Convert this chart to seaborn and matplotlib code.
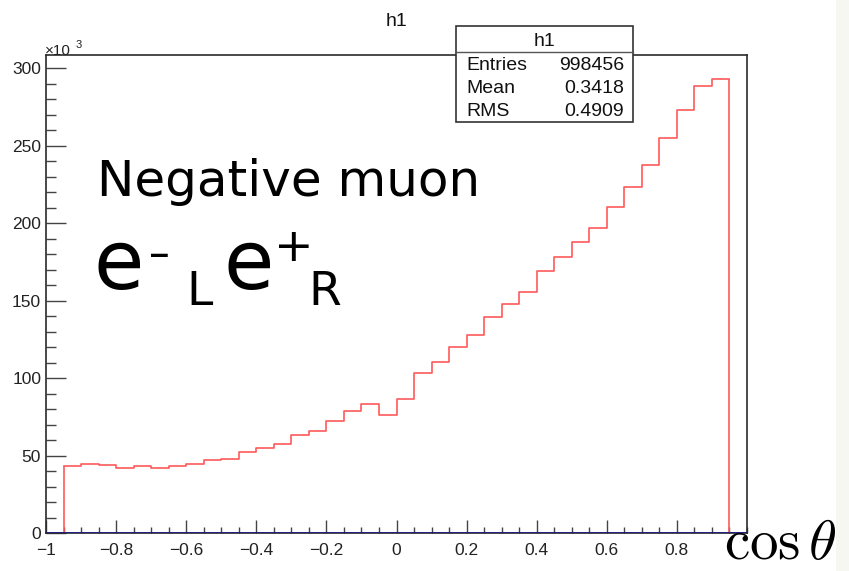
import numpy as np
import pandas as pd
import matplotlib
matplotlib.use("Agg")
import matplotlib.pyplot as plt
import seaborn as sns
from matplotlib.patches import Rectangle
from matplotlib.ticker import MultipleLocator, FixedLocator

# ---------------- data ----------------
n_bins = 38
x_lo, x_hi = -0.95, 0.95
counts_k = [43.2, 44.5, 43.9, 42.2, 43.2, 42.2, 43.2, 44.5, 47.1, 47.5,
            52.5, 54.6, 57.4, 63.2, 66.0, 72.5, 78.9, 83.0, 76.1, 86.2,
            103.4, 110.5, 119.8, 127.7, 139.1, 147.7, 155.3, 169.2, 177.8, 188.0,
            196.6, 210.5, 223.4, 237.4, 254.6, 272.9, 288.4, 292.7]
xtick_vals = [-1.0, -0.8, -0.6, -0.4, -0.2, 0.0, 0.2, 0.4, 0.6, 0.8]
xtick_labels = ["\u22121", "\u22120.8", "\u22120.6", "\u22120.4", "\u22120.2", "0", "0.2", "0.4", "0.6", "0.8"]
ytick_vals = [0, 50, 100, 150, 200, 250, 300]
ytick_labels = ["0", "50", "100", "150", "200", "250", "300"]
stats_names = ["Entries", "Mean", "RMS"]
stats_values = ["998456", "0.3418", "0.4909"]
hist_name = "h1"

edges = np.linspace(x_lo, x_hi, n_bins + 1)
centers = 0.5 * (edges[:-1] + edges[1:])
df = pd.DataFrame({"cos_theta": centers, "count": counts_k})

# ---------------- figure ----------------
W, H = 849, 571
fig = plt.figure(figsize=(W / 100, H / 100), dpi=100)
fig.patch.set_facecolor("white")

def fx(px):
    return px / W

def fy(py):
    return 1 - py / H

ax_l, ax_r, ax_t, ax_b = 46, 747, 55, 533
ax = fig.add_axes([fx(ax_l), fy(ax_b), (ax_r - ax_l) / W, (ax_b - ax_t) / H])
ax.set_facecolor("white")

red = "#ff5a5a"
sns.histplot(data=df, x="cos_theta", weights="count", bins=edges.tolist(),
             element="step", fill=False, color=red, linewidth=1.2, ax=ax)
# outer edges of the histogram down to zero
ax.vlines([edges[0], edges[-1]], 0, [counts_k[0], counts_k[-1]],
          color=red, linewidth=1.2)
ax.axhline(0, color="#1c1c8a", linewidth=2.0, zorder=5)

ax.set_xlim(-1, 1)
ax.set_ylim(0, 308.4)
ax.set_xlabel("")
ax.set_ylabel("")

ax.xaxis.set_major_locator(FixedLocator(xtick_vals))
ax.set_xticklabels(xtick_labels)
ax.xaxis.set_minor_locator(MultipleLocator(0.05))
ax.yaxis.set_major_locator(FixedLocator(ytick_vals))
ax.set_yticklabels(ytick_labels)
ax.yaxis.set_minor_locator(MultipleLocator(10))

frame_c = "#2a2a2a"
for s in ax.spines.values():
    s.set_color(frame_c)
    s.set_linewidth(1.2)

ax.tick_params(axis="x", which="major", direction="in", length=9.4, width=1.0,
               color="#444444", pad=7, labelsize=12.5, top=False)
ax.tick_params(axis="x", which="minor", direction="in", length=4.0, width=1.0,
               color="#444444", top=False)
ax.tick_params(axis="y", which="major", direction="in", length=14.4, width=1.0,
               color="#444444", pad=3.5, labelsize=12.5, right=False)
ax.tick_params(axis="y", which="minor", direction="in", length=7.2, width=1.0,
               color="#444444", right=False)
for lab in ax.get_xticklabels() + ax.get_yticklabels():
    lab.set_fontfamily("Liberation Sans")
    lab.set_color("#222222")

# ×10^3
fig.text(fx(45), fy(55), "\u00d710", fontsize=11, family="Liberation Sans",
         color="#222222", va="baseline", ha="left")
fig.text(fx(75.5), fy(47.5), "3", fontsize=8, family="Liberation Sans",
         color="#222222", va="baseline", ha="left")

# title
fig.text(fx(396.5), fy(26), hist_name, fontsize=14, family="Liberation Sans",
         color="#111111", va="baseline", ha="center")

# stats box
bx0, bx1, by0, by1, bsep = 456, 633, 26, 122, 51.5
fig.patches.append(Rectangle((fx(bx0), fy(by1)), (bx1 - bx0) / W, (by1 - by0) / H,
                             transform=fig.transFigure, facecolor="white",
                             edgecolor="#333333", linewidth=1.2, zorder=10))
fig.lines.append(plt.Line2D([fx(bx0), fx(bx1)], [fy(bsep), fy(bsep)],
                            transform=fig.transFigure, color="#555555",
                            linewidth=1.0, zorder=11))
fig.text(fx((bx0 + bx1) / 2), fy(46.5), hist_name, fontsize=14, family="Liberation Sans",
         color="#111111", va="baseline", ha="center", zorder=12)
row_base = [70, 93, 116.5]
for name, val, yb in zip(stats_names, stats_values, row_base):
    fig.text(fx(466), fy(yb), name, fontsize=14, family="Liberation Sans",
             color="#111111", va="baseline", ha="left", zorder=12)
    fig.text(fx(624), fy(yb), val, fontsize=14, family="Liberation Sans",
             color="#111111", va="baseline", ha="right", zorder=12)

# annotations
big_font = "DejaVu Sans"
fig.text(fx(97), fy(196.5), "Negative muon", fontsize=36, family=big_font,
         color="black", va="baseline", ha="left")
fig.text(fx(93), fy(289), "e", fontsize=59, family=big_font, color="black",
         va="baseline", ha="left")
fig.text(fx(149), fy(267), "\u2013", fontsize=30, family=big_font, color="black",
         va="baseline", ha="left")
fig.text(fx(186), fy(305), "L", fontsize=34, family=big_font, color="black",
         va="baseline", ha="left")
fig.text(fx(224), fy(289), "e", fontsize=59, family=big_font, color="black",
         va="baseline", ha="left")
fig.text(fx(274), fy(261), "+", fontsize=34, family=big_font, color="black",
         va="baseline", ha="left")
fig.text(fx(308), fy(305), "R", fontsize=34, family=big_font, color="black",
         va="baseline", ha="left")

# axis title
fig.text(fx(724), fy(559), r"$\cos\theta$", fontsize=41, math_fontfamily="cm",
         color="black", va="baseline", ha="left")

# faint strip at right edge
fig.patches.append(Rectangle((fx(836), 0), 13 / W, 1, transform=fig.transFigure,
                             facecolor="#f7f7f2", edgecolor="none", zorder=0))

fig.savefig("out.png", dpi=100, facecolor="white")
